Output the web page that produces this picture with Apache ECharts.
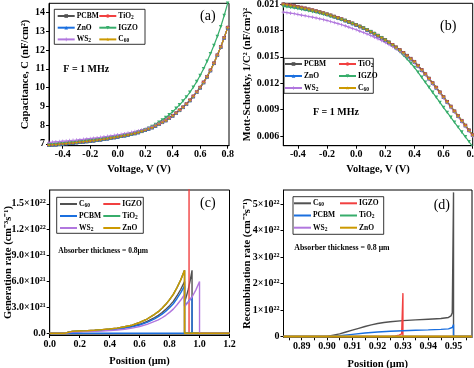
<!DOCTYPE html>
<html><head><meta charset="utf-8">
<script src="https://cdn.jsdelivr.net/npm/echarts@6/dist/echarts.min.js"></script>
<style>html,body{margin:0;padding:0;background:#fff}#c{width:474px;height:368px}</style>
</head><body><div id="c"></div>
<script>
// ================= DATA =================
// (a)/(b) voltage sweep (V)
const voltage = [-0.5,-0.475,-0.45,-0.425,-0.4,-0.375,-0.35,-0.325,-0.3,-0.275,-0.25,-0.225,-0.2,-0.175,-0.15,-0.125,-0.1,-0.075,-0.05,-0.025,0,0.025,0.05,0.075,0.1,0.125,0.15,0.175,0.2,0.225,0.25,0.275,0.3,0.325,0.35,0.375,0.4,0.425,0.45,0.475,0.5,0.525,0.55,0.575,0.6,0.625,0.65,0.675,0.7,0.725,0.75,0.775,0.8];
// (a) capacitance nF/cm2
const capBase = [6.93,6.95,6.96,6.98,7.00,7.02,7.03,7.05,7.07,7.09,7.11,7.13,7.15,7.17,7.20,7.22,7.25,7.28,7.31,7.34,7.37,7.41,7.44,7.48,7.52,7.56,7.61,7.67,7.73,7.80,7.87,7.96,8.05,8.15,8.25,8.37,8.50,8.64,8.79,8.95,9.12,9.32,9.53,9.76,10.00,10.28,10.58,10.92,11.30,11.73,12.17,12.66,13.20];
const capIGZO = [6.93,6.95,6.96,6.98,7.00,7.02,7.03,7.05,7.07,7.09,7.11,7.13,7.15,7.17,7.20,7.22,7.25,7.28,7.31,7.34,7.37,7.41,7.44,7.48,7.52,7.56,7.61,7.67,7.75,7.83,7.92,8.03,8.15,8.27,8.40,8.55,8.71,8.89,9.08,9.28,9.50,9.75,10.02,10.32,10.65,11.01,11.40,11.81,12.25,12.73,13.25,13.85,14.50];
const capWS2 = [7.08,7.09,7.11,7.12,7.14,7.15,7.17,7.19,7.20,7.22,7.24,7.26,7.28,7.30,7.32,7.35,7.37,7.40,7.42,7.45,7.48,7.51,7.54,7.57,7.61,7.65,7.69,7.74,7.79,7.85,7.92,8.00,8.08,8.17,8.27,8.38,8.51,8.64,8.79,8.95,9.12,9.32,9.53,9.76,10.00,10.28,10.58,10.92,11.30,11.73,12.17,12.66,13.20];
// (b) Mott-Schottky 1/C^2
const msBase = [0.02100,0.02093,0.02086,0.02078,0.02070,0.02061,0.02052,0.02042,0.02032,0.02021,0.02010,0.01998,0.01986,0.01973,0.01959,0.01945,0.01930,0.01915,0.01899,0.01882,0.01865,0.01847,0.01828,0.01808,0.01787,0.01765,0.01742,0.01718,0.01693,0.01666,0.01638,0.01609,0.01579,0.01547,0.01514,0.01480,0.01445,0.01400,0.01353,0.01304,0.01254,0.01203,0.01151,0.01098,0.01044,0.00990,0.00936,0.00882,0.00828,0.00774,0.00720,0.00665,0.00610];
const msIGZO = [0.02075,0.02069,0.02063,0.02056,0.02049,0.02041,0.02033,0.02024,0.02015,0.02005,0.01995,0.01984,0.01973,0.01961,0.01948,0.01935,0.01921,0.01907,0.01892,0.01876,0.01860,0.01843,0.01825,0.01806,0.01785,0.01763,0.01740,0.01715,0.01688,0.01658,0.01627,0.01594,0.01559,0.01517,0.01474,0.01428,0.01380,0.01325,0.01268,0.01211,0.01154,0.01097,0.01040,0.00982,0.00924,0.00868,0.00812,0.00756,0.00700,0.00645,0.00590,0.00535,0.00480];
const msWS2 = [0.02010,0.02004,0.01998,0.01991,0.01984,0.01976,0.01968,0.01960,0.01952,0.01943,0.01934,0.01924,0.01914,0.01903,0.01891,0.01879,0.01866,0.01853,0.01839,0.01824,0.01809,0.01794,0.01778,0.01761,0.01743,0.01725,0.01706,0.01686,0.01665,0.01642,0.01618,0.01592,0.01564,0.01534,0.01502,0.01469,0.01435,0.01390,0.01343,0.01294,0.01244,0.01193,0.01141,0.01088,0.01034,0.00980,0.00926,0.00872,0.00818,0.00764,0.00710,0.00655,0.00600];

// (c) generation rate (cm^-3 s^-1): absorber profile positions (um)
const genPos = [0.1,0.15,0.2,0.25,0.3,0.35,0.4,0.45,0.5,0.55,0.6,0.65,0.7,0.725,0.75,0.775,0.8,0.825,0.85,0.875,0.9];
const genZnO  = [0.19e21,0.22e21,0.26e21,0.30e21,0.35e21,0.42e21,0.50e21,0.60e21,0.75e21,0.95e21,1.25e21,1.65e21,2.2e21,2.5e21,2.9e21,3.35e21,3.9e21,4.5e21,5.3e21,6.2e21,7.3e21];
const genC60  = [0.17e21,0.20e21,0.23e21,0.27e21,0.31e21,0.37e21,0.44e21,0.52e21,0.64e21,0.80e21,1.04e21,1.37e21,1.82e21,2.08e21,2.4e21,2.77e21,3.2e21,3.7e21,4.35e21,5.1e21,6.0e21];
const genPCBM = [0.15e21,0.18e21,0.21e21,0.25e21,0.29e21,0.34e21,0.40e21,0.48e21,0.59e21,0.74e21,0.96e21,1.27e21,1.68e21,1.92e21,2.22e21,2.56e21,2.97e21,3.42e21,4.03e21,4.7e21,5.5e21];
const genWS2  = [0.12e21,0.14e21,0.17e21,0.20e21,0.23e21,0.27e21,0.32e21,0.38e21,0.47e21,0.60e21,0.78e21,1.03e21,1.37e21,1.56e21,1.80e21,2.08e21,2.42e21,2.8e21,3.3e21,3.85e21,4.5e21];
// transport-layer segments [position, rate]
const etlC60  = [[0.9,0],[0.9,3.6e21],[0.9125,4.3e21],[0.925,5.1e21],[0.9375,6.1e21],[0.95,7.3e21],[0.95,0],[1.2,0]];
const etlPCBM = [[0.9,3.2e21],[0.925,3.65e21],[0.95,4.2e21],[0.95,0],[0.1,0]];
const etlWS2  = [[0.9,3.1e21],[0.925,3.6e21],[0.95,4.2e21],[0.975,5.0e21],[1.0,6.0e21],[1.0,0],[1.2,0]];
const etlIGZO = [[0.9,0],[0.93,0],[0.93,1.8e22],[0.93,0],[1.2,0]];
const etlZnO  = [[0.9,0],[1.2,0]];
const frontZero = [[0,0],[0.1,0]];

// (d) recombination rate (cm^-3 s^-1)
const recC60 = [[0.8828,0],[0.900,0],[0.9025,0.05e22],[0.905,0.10e22],[0.9075,0.17e22],[0.910,0.24e22],[0.9125,0.31e22],[0.915,0.38e22],[0.9175,0.44e22],[0.920,0.49e22],[0.9225,0.53e22],[0.925,0.56e22],[0.930,0.60e22],[0.935,0.63e22],[0.940,0.655e22],[0.945,0.68e22],[0.948,0.72e22],[0.949,0.78e22],[0.9495,0.90e22],[0.950,5.45e22],[0.950,0],[0.9573,0]];
const recPCBM = [[0.8828,0],[0.901,0],[0.905,0.03e22],[0.910,0.08e22],[0.915,0.13e22],[0.920,0.17e22],[0.925,0.20e22],[0.930,0.22e22],[0.935,0.235e22],[0.940,0.25e22],[0.945,0.27e22],[0.948,0.29e22],[0.9495,0.34e22],[0.950,0.45e22],[0.950,0],[0.9573,0]];
const recIGZO = [[0.8828,0],[0.925,0],[0.927,0.02e22],[0.9285,0.05e22],[0.9295,0.10e22],[0.930,1.64e22],[0.930,0],[0.9573,0]];
const recZero = [[0.8828,0],[0.9573,0]];

// ticks
const tickA_x = [-0.4,-0.2,0,0.2,0.4,0.6,0.8];
const tickA_y = [7,8,9,10,11,12,13,14];
const tickB_y = [0.006,0.009,0.012,0.015,0.018,0.021];
const tickC_x = [0,0.2,0.4,0.6,0.8,1.0,1.2];
const tickC_y = [0,3e21,6e21,9e21,1.2e22,1.5e22];
const tickC_yText = ['0.0','3.0×10²¹','6.0×10²¹','9.0×10²¹','1.2×10²²','1.5×10²²'];
const tickD_x = [0.89,0.90,0.91,0.92,0.93,0.94,0.95];
const tickD_xMinor = [0.885,0.89,0.895,0.90,0.905,0.91,0.915,0.92,0.925,0.93,0.935,0.94,0.945,0.95,0.955];
const tickD_y = [0,1e22,2e22,3e22,4e22,5e22];
const tickD_yText = ['0','1×10²²','2×10²²','3×10²²','4×10²²','5×10²²'];

// ================= CHART =================
const F = 'Liberation Serif';
const C = {blk:'#515151', red:'#F14040', blue:'#1A6FDF', green:'#37AD6B', purple:'#B177DE', gold:'#CC9900'};
const zip = (xs, ys) => xs.map((x,i)=>[x, ys[i]]);
const lbl = {fontFamily:F, fontWeight:'bold', fontSize:10, color:'#000'};
const nameStyle = {fontFamily:F, fontWeight:'bold', fontSize:10.5, color:'#000'};

function mkAxis(o){
  return Object.assign({
    type:'value', splitLine:{show:false},
    axisLine:{show:true, onZero:false, lineStyle:{color:'#000', width:1}},
    axisTick:{show:true, length:3, lineStyle:{color:'#000'}, customValues:o.ticks},
    axisLabel:Object.assign({customValues:o.ticks, margin:4, formatter:o.fmt, hideOverlap:false}, lbl),
    nameLocation:'middle', nameTextStyle:nameStyle, nameMoveOverlap:false
  }, o.ext);
}
const closest = (arr, txt) => v => { let k=0; arr.forEach((a,i)=>{ if(Math.abs(a-v)<Math.abs(arr[k]-v)) k=i; }); return txt[k]; };

const xAxis = [
  mkAxis({ticks:tickA_x, fmt:v=>v.toFixed(1), ext:{gridIndex:0, min:-0.5, max:0.81, name:'Voltage, V (V)', nameGap:18}}),
  mkAxis({ticks:tickA_x, fmt:v=>v.toFixed(1), ext:{gridIndex:1, min:-0.5, max:0.8, name:'Voltage, V (V)', nameGap:18}}),
  mkAxis({ticks:tickC_x, fmt:v=>v.toFixed(1), ext:{gridIndex:2, min:0, max:1.2, name:'Position (μm)', nameGap:21}}),
  mkAxis({ticks:tickD_x, fmt:v=>v.toFixed(2), ext:{gridIndex:3, min:0.8828, max:0.9573, name:'Position (μm)', nameGap:21}}),
];
xAxis[3].axisTick.customValues = tickD_xMinor;
const yAxis = [
  mkAxis({ticks:tickA_y, fmt:v=>String(v), ext:{gridIndex:0, min:6.9, max:14.5, name:'Capacitance, C (nF/cm²)', nameGap:18}}),
  mkAxis({ticks:tickB_y, fmt:v=>v.toFixed(3), ext:{gridIndex:1, min:0.0049, max:0.0211, name:'Mott-Schottky, 1/C² (nF/cm²)²', nameGap:31}}),
  mkAxis({ticks:tickC_y, fmt:closest(tickC_y, tickC_yText), ext:{gridIndex:2, min:-2e20, max:1.66e22, name:'Generation rate (cm⁻³s⁻¹)', nameGap:36}}),
  mkAxis({ticks:tickD_y, fmt:closest(tickD_y, tickD_yText), ext:{gridIndex:3, min:-3e20, max:5.54e22, name:'Recombination rate (cm⁻³s⁻¹)', nameGap:31}}),
];

const gridBase = {show:true, borderColor:'#000', borderWidth:1, backgroundColor:'transparent', containLabel:false, outerBoundsMode:'none'};
const grid = [
  Object.assign({left:49, top:3.3, width:180, height:142.4}, gridBase),
  Object.assign({left:283.3, top:3.3, width:189.4, height:142.4}, gridBase),
  Object.assign({left:49.7, top:190, width:179.8, height:145}, gridBase),
  Object.assign({left:283.5, top:190, width:188.5, height:147.3}, gridBase),
];

const SYM = {
  IGZO:'path://M0,0 L10,0 L5,10 Z',
  WS2:'path://M4,0 L6,0 L6,4 L10,4 L10,6 L6,6 L6,10 L4,10 L4,6 L0,6 L0,4 L4,4 Z',
  C60:'path://M5,0 L6.2,3.8 L10,3.8 L7,6.2 L8.1,10 L5,7.7 L1.9,10 L3,6.2 L0,3.8 L3.8,3.8 Z'
};
function mark(name, color, sym, data, ax){
  return {name, type:'line', xAxisIndex:ax, yAxisIndex:ax, data, color,
    symbol:sym, symbolSize:3.6, showSymbol:true,
    lineStyle:{width:1.2, color}, itemStyle:{color}, emphasis:{disabled:true}};
}
function plain(name, color, data, ax, w){
  return {name, type:'line', xAxisIndex:ax, yAxisIndex:ax, data, color, symbol:'none',
    lineStyle:{width:w||1.4, color}, itemStyle:{color}, emphasis:{disabled:true}};
}
const absorber = (ys) => zip(genPos, ys);
const series = [];
[0,1].forEach(ax=>{
  const base = ax===0 ? capBase : msBase, ig = ax===0 ? capIGZO : msIGZO, ws = ax===0 ? capWS2 : msWS2;
  series.push(mark('PCBM', C.blk, 'rect', zip(voltage, base), ax));
  series.push(mark('TiO₂', C.red, 'circle', zip(voltage, base), ax));
  series.push(mark('ZnO', C.blue, 'triangle', zip(voltage, base), ax));
  series.push(mark('IGZO', C.green, SYM.IGZO, zip(voltage, ig), ax));
  series.push(mark('WS₂', C.purple, SYM.WS2, zip(voltage, ws), ax));
  series.push(mark('C₆₀', C.gold, SYM.C60, zip(voltage, base), ax));
});
// (c)
series.push(plain('cd-C₆₀', C.blk, frontZero.concat(absorber(genC60), etlC60), 2));
series.push(plain('cd-IGZO', C.red, frontZero.concat(absorber(genZnO), etlIGZO), 2));
series.push(plain('cd-PCBM', C.blue, frontZero.concat(absorber(genPCBM), etlPCBM), 2));
series.push(plain('cd-TiO₂', C.green, frontZero.concat(absorber(genZnO), etlZnO), 2));
series.push(plain('cd-WS₂', C.purple, frontZero.concat(absorber(genWS2), etlWS2), 2));
series.push(plain('cd-ZnO', C.gold, frontZero.concat(absorber(genZnO), etlZnO), 2));
// (d)
series.push(plain('cd-C₆₀', C.blk, recC60, 3));
series.push(plain('cd-IGZO', C.red, recIGZO, 3));
series.push(plain('cd-PCBM', C.blue, recPCBM, 3));
series.push(plain('cd-TiO₂', C.green, recZero, 3));
series.push(plain('cd-WS₂', C.purple, recZero, 3));
series.push(plain('cd-ZnO', C.gold, recZero, 3, 2.2));

const legFmt = n => n.replace(/^cd-/,'').replace('₆₀','{s|60}').replace('₂','{s|2}');
function leg(data, left, top, step, lineIcon){
  const o = {data, left, top, orient:'vertical', padding:0, itemGap:step-9, itemWidth:17, itemHeight:lineIcon?2:4.5,
    selectedMode:false, formatter:legFmt,
    textStyle:{fontFamily:F, fontWeight:'bold', fontSize:7.5, color:'#000', lineHeight:9, padding:[0,0,0,-3],
      rich:{s:{fontFamily:F, fontWeight:'bold', fontSize:5.5, color:'#000', lineHeight:6, verticalAlign:'bottom'}}}};
  if(lineIcon) o.icon = 'rect';
  return o;
}
const legend = [
  leg(['PCBM','ZnO','WS₂'], 56.7, 11.5, 11.7), leg(['TiO₂','IGZO','C₆₀'], 98.3, 11.5, 11.7),
  leg(['PCBM','ZnO','WS₂'], 284, 59.5, 12), leg(['TiO₂','IGZO','C₆₀'], 338, 59.5, 12),
  leg(['cd-C₆₀','cd-PCBM','cd-WS₂'], 60, 199.5, 12, true), leg(['cd-IGZO','cd-TiO₂','cd-ZnO'], 103.3, 199.5, 12, true),
  leg(['cd-C₆₀','cd-PCBM','cd-WS₂'], 294, 198.8, 12.2, true), leg(['cd-IGZO','cd-TiO₂','cd-ZnO'], 340, 198.8, 12.2, true),
];

function box(x,y,w,h){ return {type:'rect', shape:{x,y,width:w,height:h}, style:{fill:'#fff', stroke:'#000', lineWidth:0.8}, z:-1, zlevel:0}; }
function txt(x, yc, text, size, bold){
  return {type:'text', x, y:yc, style:{text, fontFamily:F, fontSize:size, fontWeight:bold?'bold':'normal', fill:'#000', verticalAlign:'middle'}, z:100};
}
const graphic = [
  box(54.3,9.3,90.7,35), box(284,58.3,89.3,35), box(56.7,197.3,86.6,36), box(293,196.7,90.7,37.6),
  txt(200,16.7,'(a)',14,false), txt(440,26,'(b)',14,false), txt(200,203.3,'(c)',14,false), txt(433.7,205,'(d)',14,false),
  txt(63.3,69.3,'F = 1 MHz',10,true), txt(313,112.7,'F = 1 MHz',10,true),
  txt(58.3,251,'Absorber thickness = 0.8μm',7.5,true), txt(294.3,248.3,'Absorber thickness = 0.8 μm',7.8,true),
];

const chart = echarts.init(document.getElementById('c'), null, {renderer:'canvas'});
chart.setOption({animation:false, backgroundColor:'#fff', grid, xAxis, yAxis, series, legend, graphic});
</script></body></html>
